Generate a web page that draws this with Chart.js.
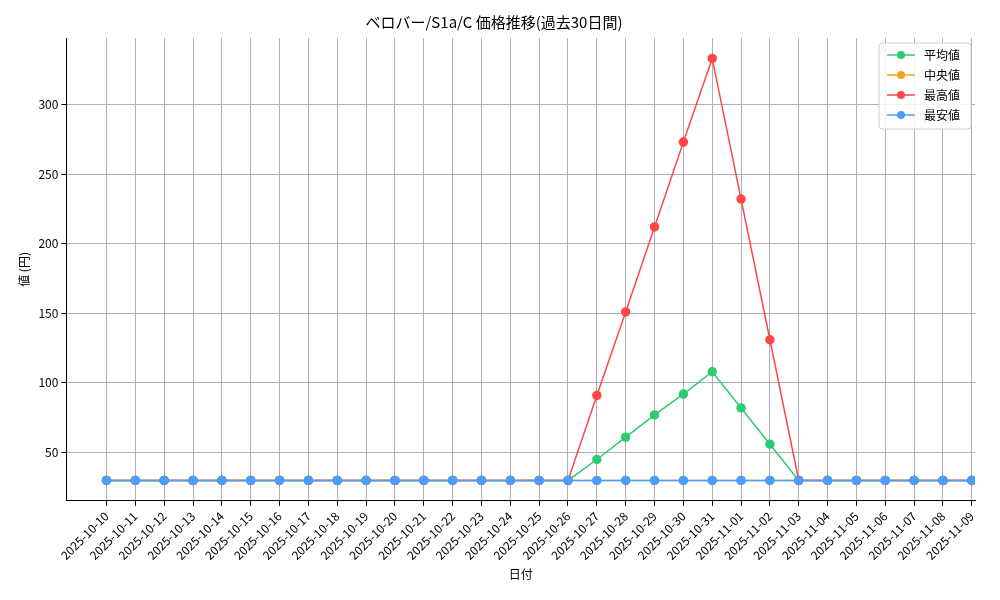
<!DOCTYPE html>
<html><head><meta charset="utf-8">
<script src="https://cdn.jsdelivr.net/npm/chart.js@4"></script>
<style>html,body{margin:0;background:#fff}#w{width:1000px;height:600px}</style>
</head><body><div id="w"><canvas id="c"></canvas></div>
<script>
const dates=["2025-10-10","2025-10-11","2025-10-12","2025-10-13","2025-10-14","2025-10-15","2025-10-16","2025-10-17","2025-10-18","2025-10-19","2025-10-20","2025-10-21","2025-10-22","2025-10-23","2025-10-24","2025-10-25","2025-10-26","2025-10-27","2025-10-28","2025-10-29","2025-10-30","2025-10-31","2025-11-01","2025-11-02","2025-11-03","2025-11-04","2025-11-05","2025-11-06","2025-11-07","2025-11-08","2025-11-09"];
const avgVals=[30,30,30,30,30,30,30,30,30,30,30,30,30,30,30,30,30,45,61,77,92,108,82,56,30,30,30,30,30,30,30];
const medVals=[30,30,30,30,30,30,30,30,30,30,30,30,30,30,30,30,30,30,30,30,30,30,30,30,30,30,30,30,30,30,30];
const maxVals=[30,30,30,30,30,30,30,30,30,30,30,30,30,30,30,30,30,91,151,212,273,333,232,131,30,30,30,30,30,30,30];
const minVals=[30,30,30,30,30,30,30,30,30,30,30,30,30,30,30,30,30,30,30,30,30,30,30,30,30,30,30,30,30,30,30];
const yTicks=[50,100,150,200,250,300];
const F='"Noto Sans CJK JP", "DejaVu Sans"';
const mk=(label,vals,color,order)=>({label,order,data:vals.map((v,i)=>({x:i,y:v})),borderColor:color,backgroundColor:color,pointRadius:4,pointHoverRadius:4,borderWidth:1.5,tension:0});
const legendPlugin={id:'lg',afterDraw(ch){const c=ch.ctx,a=ch.chartArea;const w=92,h=86,x=a.right-w-4,y=a.top+5;
c.save();c.fillStyle='rgba(255,255,255,0.85)';c.strokeStyle='#ccc';c.lineWidth=1;c.beginPath();c.roundRect(x,y,w,h,3);c.fill();c.stroke();
c.font='12px '+F;c.textBaseline='middle';
ch.data.datasets.forEach((d,i)=>{const yy=y+12+i*20;c.strokeStyle=d.borderColor;c.lineWidth=1.5;c.beginPath();c.moveTo(x+8,yy);c.lineTo(x+36,yy);c.stroke();
c.fillStyle=d.borderColor;c.beginPath();c.arc(x+22,yy,4,0,7);c.fill();c.fillStyle='#000';c.fillText(d.label,x+45,yy);});c.restore();}};
new Chart(document.getElementById('c'),{type:'line',
data:{datasets:[mk('平均値',avgVals,'#2ecc71',3),mk('中央値',medVals,'#f5a31a',2),mk('最高値',maxVals,'#ff4747',1),mk('最安値',minVals,'#4a9eff',0)]},
options:{responsive:true,maintainAspectRatio:false,animation:false,
layout:{padding:{top:11,right:25,left:13,bottom:14}},
plugins:{legend:{display:false},tooltip:{enabled:false},
title:{display:true,text:'ベロバー/S1a/C 価格推移(過去30日間)',color:'#000',font:{family:F,size:15,weight:'normal'},padding:{top:2,bottom:7}}},
scales:{x:{type:'linear',min:-1.39,max:30.11,afterBuildTicks:s=>{s.ticks=dates.map((d,i)=>({value:i}));s.min=-1.39;s.max=30.11;},
ticks:{autoSkip:false,minRotation:45,maxRotation:45,color:'#000',font:{family:F,size:12},callback:(v)=>dates[v]},
grid:{color:'#b0b0b0',tickLength:5,tickColor:'#000'},border:{color:'#000'},
title:{display:true,text:'日付',color:'#000',font:{family:F,size:12},padding:{top:2}}},
y:{min:15.3,max:347.7,afterBuildTicks:s=>{s.ticks=yTicks.map(v=>({value:v}));s.min=15.3;s.max=347.7;},
ticks:{color:'#000',font:{family:F,size:12}},grid:{color:'#b0b0b0',tickLength:5,tickColor:'#000'},border:{color:'#000'},
title:{display:true,text:'値 (円)',color:'#000',font:{family:F,size:12}}}}},
plugins:[legendPlugin]});
</script></body></html>
